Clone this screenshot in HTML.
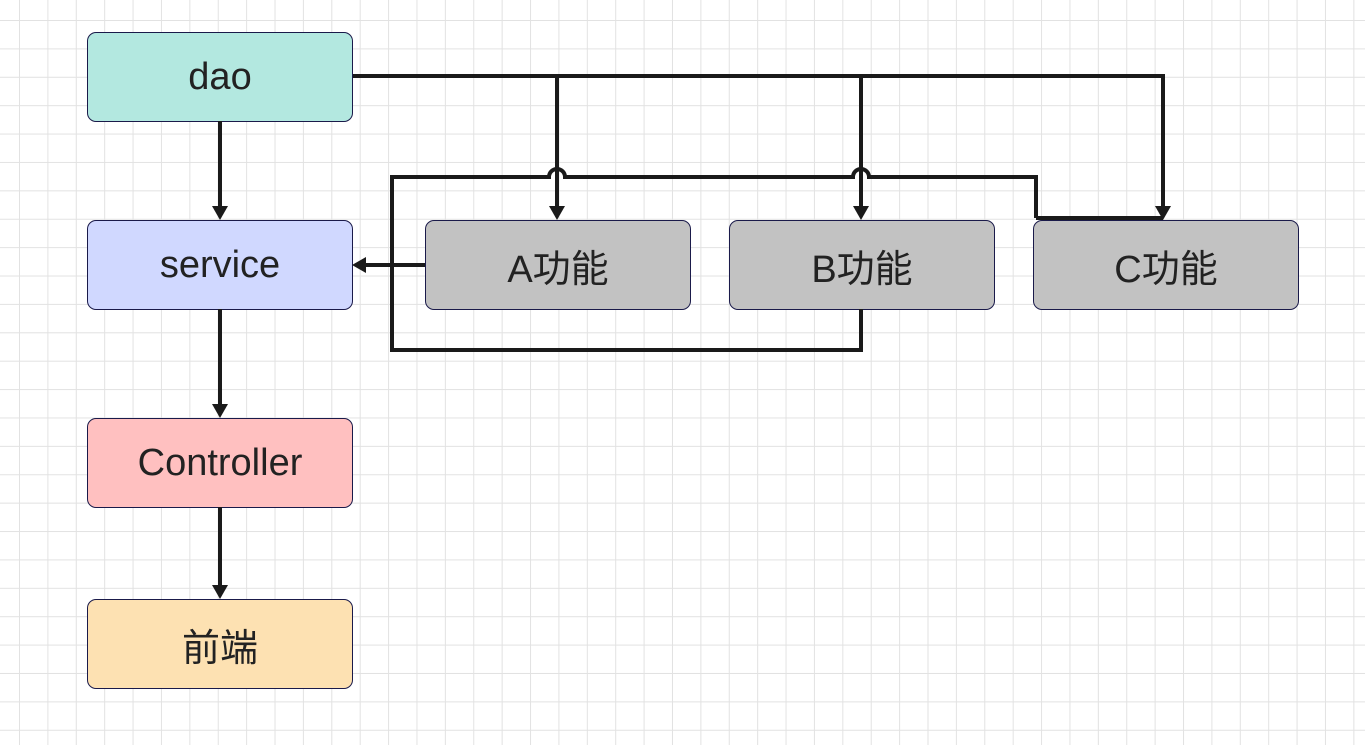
<!DOCTYPE html>
<html><head><meta charset="utf-8"><style>
html,body{margin:0;padding:0;width:1365px;height:745px;overflow:hidden;background:#fff}
.g{position:absolute;left:0;top:0;width:1365px;height:745px;
background-image:linear-gradient(to right,#e2e2e2 1px,transparent 1px),linear-gradient(to bottom,#e2e2e2 1px,transparent 1px);
background-size:28.4px 28.4px;background-position:19px 20px}
.b{position:absolute;box-sizing:border-box;border:1px solid #1a1a4a;border-radius:9px;display:flex;align-items:center;justify-content:center;
font-family:"Liberation Sans","Noto Sans CJK SC",sans-serif;font-size:38px;color:#222;width:266px;height:90px}
svg{position:absolute;left:0;top:0}
</style></head><body>
<div class="g"></div>
<div class="b" style="left:87px;top:32px;background:#b3e8e0">dao</div>
<div class="b" style="left:87px;top:220px;background:#d0d8ff">service</div>
<div class="b" style="left:87px;top:418px;background:#ffc0c0">Controller</div>
<div class="b" style="left:87px;top:599px;background:#fde1b2">前端</div>
<div class="b" style="left:425px;top:220px;background:#c2c2c2">A功能</div>
<div class="b" style="left:729px;top:220px;background:#c2c2c2">B功能</div>
<div class="b" style="left:1033px;top:220px;background:#c2c2c2">C功能</div>
<svg width="1365" height="745">
<g stroke="#1a1a1a" stroke-width="4" fill="none">
<path d="M353 76 H1163 V208"/>
<path d="M557 76 V208"/>
<path d="M861 76 V208"/>
<path d="M220 121 V208"/>
<path d="M220 309 V406"/>
<path d="M220 507 V587"/>
<path d="M425 265 H364"/>
<path d="M1036 218 H1163"/>
<path d="M1036 218 V177 H869 A8 8 0 0 0 853 177 H565 A8 8 0 0 0 549 177 H392 V350 H861 V309"/>
</g>
<g fill="#1a1a1a">
<path d="M1155 206 L1171 206 L1163 220Z"/>
<path d="M549 206 L565 206 L557 220Z"/>
<path d="M853 206 L869 206 L861 220Z"/>
<path d="M212 206 L228 206 L220 220Z"/>
<path d="M212 404 L228 404 L220 418Z"/>
<path d="M212 585 L228 585 L220 599Z"/>
<path d="M366 257 L366 273 L352 265Z"/>
</g>
</svg>
</body></html>
